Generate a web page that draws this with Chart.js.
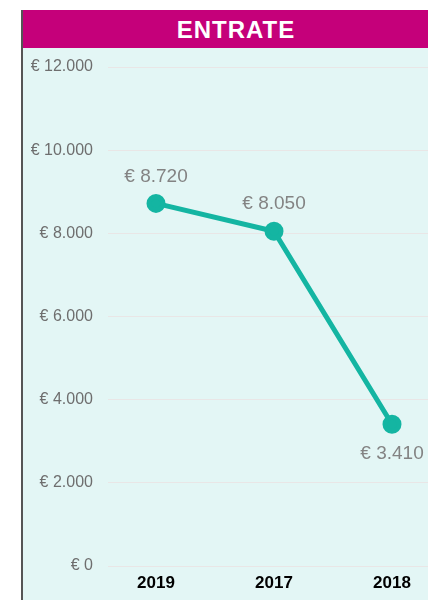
<!DOCTYPE html>
<html>
<head>
<meta charset="utf-8">
<script src="https://cdn.jsdelivr.net/npm/chart.js@4.4.1/dist/chart.umd.min.js"></script>
<style>
    html, body { margin: 0; padding: 0; background: #fff; width: 428px; height: 600px; overflow: hidden; }
    #panel { position: absolute; left: 21px; top: 10px; width: 428px; height: 590px; border-left: 2px solid #555; box-sizing: border-box; }
    #title { height: 38px; background: #C5007A; color: #fff; font: 900 24px "Liberation Sans", Arial, sans-serif; text-align: center; line-height: 40px; letter-spacing: 1px; }
    #wrap { position: relative; width: 426px; height: 552px; background: #E3F6F5; }
    #chart { display: block; }
</style>
</head>
<body>
<div id="panel">
    <div id="title">ENTRATE</div>
    <div id="wrap"><canvas id="chart" width="426" height="552"></canvas></div>
</div>
<script>
// data
const years = ['2019', '2017', '2018'];
const entrate = [8720, 8050, 3410];
const yTicks = [0, 2000, 4000, 6000, 8000, 10000, 12000];

const euro = v => '€ ' + String(Math.round(v)).replace(/\B(?=(\d{3})+(?!\d))/g, '.');

// point labels: above, except the last one which sits below
const pointLabels = {
    id: 'pointLabels',
    afterDatasetsDraw(chart) {
        const ctx = chart.ctx;
        const meta = chart.getDatasetMeta(0);
        ctx.save();
        ctx.font = '19px "Liberation Sans", Arial, sans-serif';
        ctx.fillStyle = '#838383';
        ctx.textAlign = 'center';
        ctx.textBaseline = 'middle';
        meta.data.forEach((pt, i) => {
            const below = i === meta.data.length - 1;
            ctx.fillText(euro(entrate[i]), pt.x, pt.y + (below ? 30 : -27));
        });
        ctx.restore();
    }
};

new Chart(document.getElementById('chart'), {
    type: 'line',
    data: {
        datasets: [{
            data: entrate.map((v, i) => ({ x: i, y: v })),
            borderColor: '#14B5A2',
            backgroundColor: '#14B5A2',
            borderWidth: 5,
            pointRadius: 7,
            pointHoverRadius: 7,
            tension: 0
        }]
    },
    options: {
        responsive: false, animation: false,
        layout: { padding: { top: 19, right: 0, left: 0, bottom: 0 } },
        plugins: { legend: { display: false }, tooltip: { enabled: false } },
        scales: {
            x: {
                type: 'linear',
                min: -48 / 118,
                max: 2 + 45 / 118,
                afterBuildTicks: s => { s.ticks = years.map((_, i) => ({ value: i })); },
                afterFit: s => { s.height = 34; },
                grid: { display: false, drawTicks: false },
                border: { display: false },
                ticks: {
                    padding: 7,
                    color: '#000',
                    font: { family: '"Liberation Sans", Arial, sans-serif', size: 17, weight: 'bold' },
                    callback: v => years[v] ?? ''
                }
            },
            y: {
                min: 0, max: 12000,
                afterBuildTicks: s => { s.ticks = yTicks.map(v => ({ value: v })); },
                afterFit: s => { s.width = 85; s.paddingTop = 0; s.paddingBottom = 0; },
                grid: { color: '#E9E6E6', lineWidth: 1, drawTicks: false },
                border: { display: false },
                ticks: {
                    padding: 15,
                    color: '#6E6E6E',
                    font: { family: '"Liberation Sans", Arial, sans-serif', size: 16 },
                    callback: v => euro(v)
                }
            }
        }
    },
    plugins: [pointLabels]
});
</script>
</body>
</html>
